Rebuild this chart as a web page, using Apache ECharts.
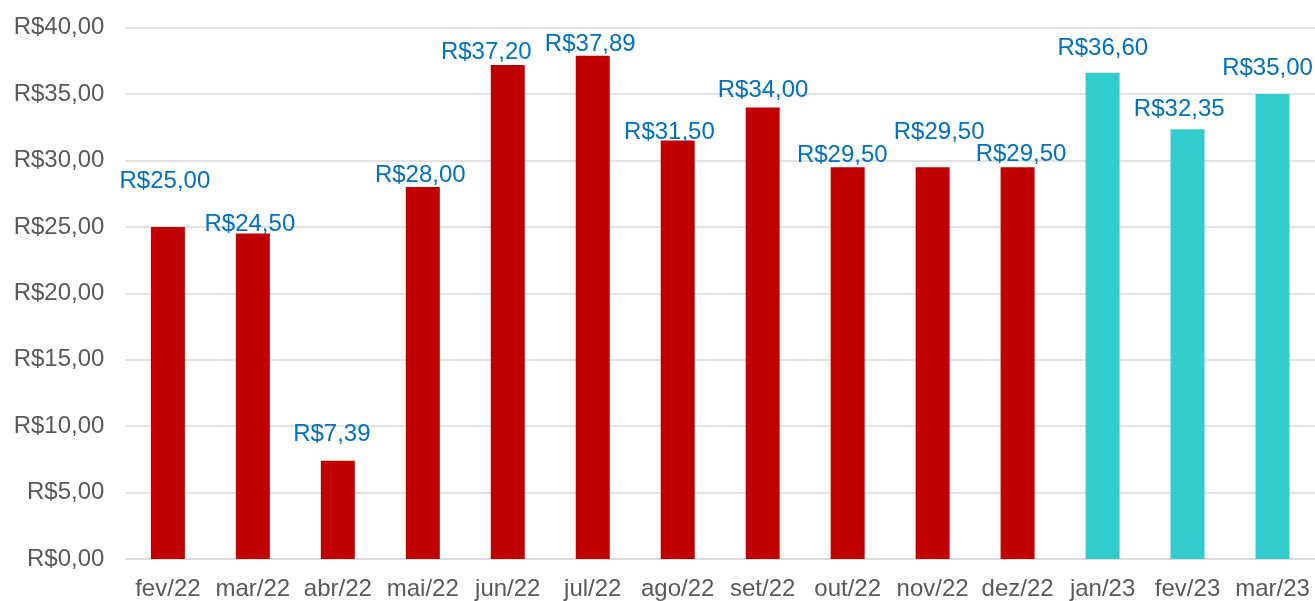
<!DOCTYPE html>
<html>
<head>
<meta charset="utf-8">
<script src="https://cdn.jsdelivr.net/npm/echarts@6/dist/echarts.min.js"></script>
<style>
html,body{margin:0;padding:0;background:#fff;}
#chart{width:1315px;height:601px;}
</style>
</head>
<body>
<div id="chart"></div>
<script>
// Data
const categories = ['fev/22','mar/22','abr/22','mai/22','jun/22','jul/22','ago/22','set/22','out/22','nov/22','dez/22','jan/23','fev/23','mar/23'];
const prices = [25.00, 24.50, 7.39, 28.00, 37.20, 37.89, 31.50, 34.00, 29.50, 29.50, 29.50, 36.60, 32.35, 35.00];
const yTicks = [0, 5, 10, 15, 20, 25, 30, 35, 40];

// Manual label nudges [dx, dy] as placed in the original chart
const labelNudges = [[-3,-35.5],[-3,1],[-6,-16],[-2.5,-1],[-21.5,-2],[-2.5,-1.3],[-8.3,2],[0.4,-6.6],[-5.4,-1.6],[6.5,-24],[3.4,-2],[0.2,-13.5],[-8.3,-9.6],[-5,-14.8]];

const RED = '#C00000';
const TEAL = '#33CCCC';

function brl(v){
  return 'R$' + v.toFixed(2).replace('.', ',');
}

const chart = echarts.init(document.getElementById('chart'), null, {renderer:'canvas'});
const font = 'Liberation Sans, Arial, sans-serif';

chart.setOption({
  animation:false,
  backgroundColor:'#ffffff',
  grid:{left:125.4, top:27.7, width:1192, height:532.8, containLabel:false},
  xAxis:{
    type:'category',
    data:categories,
    axisLine:{show:true, lineStyle:{color:'#D9D9D9', width:1.5}},
    axisTick:{show:false},
    axisLabel:{color:'#595959', fontSize:24, fontFamily:font, margin:18, interval:0}
  },
  yAxis:{
    type:'value',
    min:yTicks[0], max:yTicks[yTicks.length-1], interval:5,
    axisLine:{show:false},
    axisTick:{show:false},
    splitLine:{lineStyle:{color:'#D9D9D9', width:1.5}},
    axisLabel:{color:'#595959', fontSize:24, fontFamily:font, margin:21, padding:[4,0,0,0], formatter:v=>brl(v)}
  },
  series:[{
    type:'bar',
    barWidth:'40%',
    data:prices.map((v,i)=>({
      value:v,
      itemStyle:{color: categories[i].endsWith('/23') ? TEAL : RED},
      label:{offset:[labelNudges[i][0], labelNudges[i][1] + 1.5]}
    })),
    label:{
      show:true,
      position:'top',
      distance:0,
      color:'#0070C0',
      fontSize:24,
      lineHeight:24,
      fontFamily:font,
      formatter:p=>brl(p.value)
    }
  }]
});
</script>
</body>
</html>
